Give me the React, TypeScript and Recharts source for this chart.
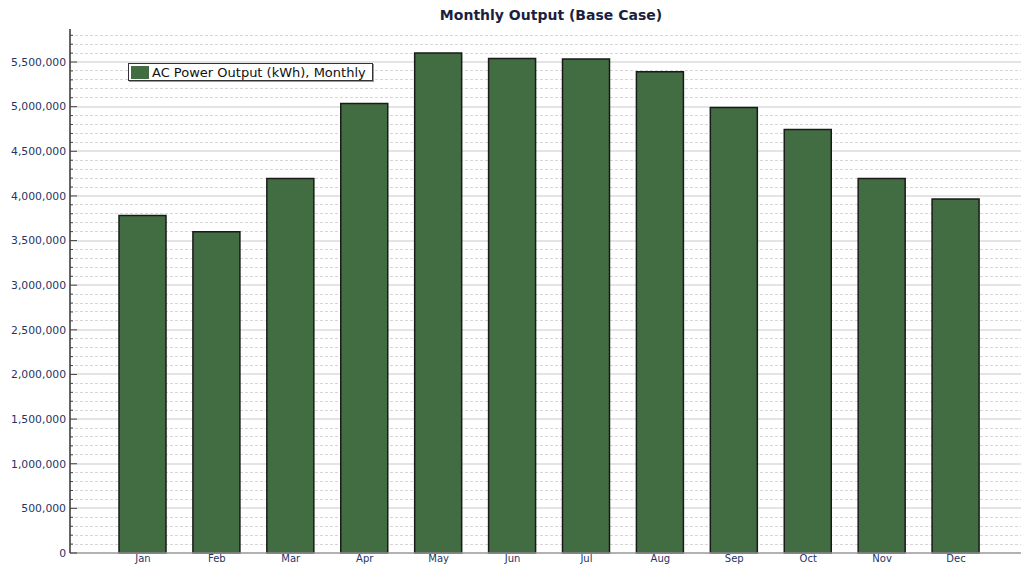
import { BarChart, Bar, XAxis, YAxis, CartesianGrid } from "recharts";

const MONTHS = ["Jan", "Feb", "Mar", "Apr", "May", "Jun", "Jul", "Aug", "Sep", "Oct", "Nov", "Dec"];
const AC_OUTPUT = [3780000, 3600000, 4195000, 5035000, 5600000, 5540000, 5535000, 5390000, 4990000, 4745000, 4195000, 3965000];
const MAJOR_TICKS = [0, 500000, 1000000, 1500000, 2000000, 2500000, 3000000, 3500000, 4000000, 4500000, 5000000, 5500000];
const ALL_TICKS = Array.from({ length: 59 }, (_, i) => i * 100000);
const MINOR_TICKS = ALL_TICKS.filter((v) => v % 500000 !== 0);

const TITLE = "Monthly Output (Base Case)";
const SERIES_NAME = "AC Power Output (kWh), Monthly";

const BAR_COLOR = "#426c42";
const TEXT_COLOR = "#1f3566";
const FONT = "'DejaVu Sans', Verdana, sans-serif";
const Y_MAX = 5870000;
const LABEL_GAP = 4;

const data = MONTHS.map((m, i) => ({ month: m, output: AC_OUTPUT[i] }));

const fmt = (v: number) => v.toLocaleString("en-US");

// y tick: label on majors, small inward tick mark on every 100k
function YTick(props: any) {
  const { x, y, payload } = props;
  const v = payload.value;
  const major = v % 500000 === 0;
  const ax = x + LABEL_GAP;
  return (
    <g>
      <line x1={ax} x2={ax + (major ? 7 : 3)} y1={y} y2={y} stroke="#444" strokeWidth={1} />
      {major && (
        <text x={x} y={y} dy="0.355em" textAnchor="end" fill={TEXT_COLOR} fontSize={10.8} fontFamily={FONT}>
          {fmt(v)}
        </text>
      )}
    </g>
  );
}

export default function App() {
  return (
    <div style={{ position: "absolute", left: 0, top: 0, width: 1021, height: 565, background: "#fff", fontFamily: FONT, overflow: "hidden" }}>
      <div
        style={{
          position: "absolute",
          left: 0,
          width: 1102,
          top: 7,
          textAlign: "center",
          fontWeight: "bold",
          fontSize: 14,
          color: "#1a1f40",
        }}
      >
        {TITLE}
      </div>
      <BarChart width={1021} height={565} data={data} margin={{ top: 29, right: 0, bottom: 0, left: 0 }}>
        <CartesianGrid
          vertical={false}
          horizontalValues={MINOR_TICKS}
          stroke="#d6d6d6"
          strokeDasharray="3 2"
          shapeRendering="crispEdges"
        />
        <CartesianGrid
          vertical={false}
          horizontalValues={MAJOR_TICKS.filter((v) => v > 0)}
          stroke="#e4e4e4"
          strokeWidth={2}
          shapeRendering="crispEdges"
        />
        <XAxis
          dataKey="month"
          height={12}
          padding={{ left: 36, right: 28 }}
          axisLine={{ stroke: "#999", strokeWidth: 1.5 }}
          tickLine={false}
          tickSize={0}
          tickMargin={2}
          tick={{ fill: TEXT_COLOR, fontSize: 10, fontFamily: FONT }}
        />
        <XAxis
          xAxisId="top"
          dataKey="month"
          orientation="top"
          height={0}
          mirror
          padding={{ left: 36, right: 28 }}
          axisLine={{ stroke: "#999", strokeWidth: 1.5 }}
          tickLine={{ stroke: "#222", strokeWidth: 1.5 }}
          tickSize={4}
          tickFormatter={() => ""}
        />
        <YAxis
          width={70}
          domain={[0, Y_MAX]}
          ticks={ALL_TICKS}
          interval={0}
          axisLine={{ stroke: "#333", strokeWidth: 1.5 }}
          tickLine={false}
          tickSize={0}
          tickMargin={LABEL_GAP}
          tick={<YTick />}
        />
        <Bar dataKey="output" fill={BAR_COLOR} stroke="#1a1a1a" strokeWidth={1.5} barSize={47} isAnimationActive={false} />
      </BarChart>
      <div
        style={{
          position: "absolute",
          left: 128,
          top: 63,
          width: 243,
          height: 16,
          border: "1px solid #333",
          boxShadow: "1px 1px 0 #999",
          background: "#fff",
          display: "flex",
          alignItems: "center",
          fontSize: 13,
          color: "#111",
          whiteSpace: "nowrap",
        }}
      >
        <span style={{ display: "inline-block", width: 18, height: 13, background: BAR_COLOR, marginLeft: 2, marginRight: 3 }} />
        {SERIES_NAME}
      </div>
    </div>
  );
}
